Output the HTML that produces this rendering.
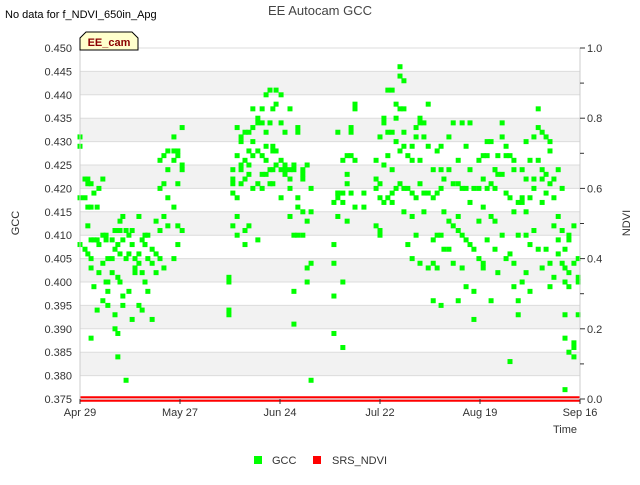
<!DOCTYPE html>
<html><head><meta charset="utf-8"><style>
body{margin:0;background:#fff;font-family:"Liberation Sans",sans-serif}
svg text{font-family:"Liberation Sans",sans-serif}
</style></head><body>
<svg id="c" width="640" height="480" xmlns="http://www.w3.org/2000/svg">
<rect width="640" height="480" fill="#fff"/>
<g id="bands"></g><g id="grid"></g>
<g id="pts"></g>
<g id="axes"></g>
<text x="5" y="18" font-size="11" fill="#000">No data for f_NDVI_650in_Apg</text>
<text x="320" y="15" font-size="13" fill="#444" text-anchor="middle">EE Autocam GCC</text>
<g>
<path d="M80,50 L80,38 L86,32 L132,32 L138,38 L138,50 Z" fill="#ffffcc" stroke="#000"/>
<text x="109" y="46" font-size="11" font-weight="bold" fill="#8b0000" text-anchor="middle">EE_cam</text></g>
<text x="565" y="433" font-size="11" fill="#333" text-anchor="middle">Time</text>
<text transform="translate(19,223) rotate(-90)" font-size="11" fill="#333" text-anchor="middle">GCC</text>
<text transform="translate(630,223) rotate(-90)" font-size="11" fill="#333" text-anchor="middle">NDVI</text>
<g><rect x="254" y="456" width="8" height="8" fill="#00ff00"/><text x="272" y="464" font-size="11" fill="#333">GCC</text></g>
<g><rect x="313" y="456" width="8" height="8" fill="#ff0000"/><text x="332" y="464" font-size="11" fill="#333">SRS_NDVI</text></g>
</svg>
<script>
const xTickLabels=["Apr 29","May 27","Jun 24","Jul 22","Aug 19","Sep 16"];
const xTickDays=[0,28,56,84,112,140];
const yTicks=[0.375,0.38,0.385,0.39,0.395,0.4,0.405,0.41,0.415,0.42,0.425,0.43,0.435,0.44,0.445,0.45];
const y2Ticks=[0,0.2,0.4,0.6,0.8,1.0];
const ndviLevels=[0.005,-0.005];
const dayGroups=[0,1.4,2.2,3.1,3.9,4.8,5.3,6.4,7.3,7.8,9,9.8,10.6,11.2,12,12.9,13.7,14.6,15.4,16.5,17.4,18.2,19,20.2,21.3,22.4,23.5,24.6,26.3,27.4,28.6,41.7,42.8,44,45.1,46.2,47.3,48.4,49.8,51,52.1,53.2,54,54.9,56.3,57.4,58.8,59.9,61,62.4,63.6,64.7,71.1,72.2,73.6,74.8,75.9,77,79.5,82.9,84,85.1,86.2,87.4,88.5,89.6,90.7,91.8,93,94.1,95.2,96.3,97.5,98.9,100,101.1,101.9,103.3,104.5,105.9,107,108.1,109.2,110.3,111.7,112.9,114,115.1,116.2,117,118.2,119.3,120.4,121.5,122.7,123.8,124.9,126,127.1,128.3,129.4,130.5,131.6,132.7,133.9,135,135.8,136.9,138.3,139.5];
const gccGroups=[[0.431,0.429,0.418,0.408],[0.422,0.407,0.418],[0.422,0.421,0.416,0.406,0.412],[0.421,0.416,0.405,0.388,0.403,0.409],[0.419,0.399,0.409],[0.416,0.394,0.409],[0.420,0.408,0.402],[0.422,0.410,0.404,0.396],[0.400,0.409,0.410],[0.400,0.405,0.398,0.395],[0.409,0.405,0.402],[0.411,0.390,0.407,0.393],[0.389,0.384,0.408,0.401],[0.411,0.406,0.400,0.413],[0.414,0.397,0.395,0.409],[0.405,0.379,0.411],[0.406,0.398,0.410],[0.411,0.392,0.408],[0.405,0.402,0.403],[0.414,0.404,0.395,0.406],[0.394,0.402,0.409],[0.408,0.410,0.408,0.400],[0.410,0.405,0.398],[0.404,0.407,0.392],[0.413,0.406,0.402],[0.420,0.426,0.411,0.405],[0.421,0.427,0.414,0.403],[0.428,0.418,0.424,0.412],[0.428,0.426,0.431,0.416,0.405],[0.427,0.428,0.421,0.412,0.408],[0.433,0.425,0.424,0.411],[0.394,0.393,0.401,0.400],[0.424,0.422,0.421,0.412,0.419],[0.433,0.427,0.418,0.414,0.410],[0.431,0.430,0.425,0.424,0.421],[0.432,0.426,0.422,0.411,0.408],[0.432,0.428,0.423,0.412,0.425],[0.437,0.433,0.430,0.427,0.420],[0.435,0.428,0.421,0.409,0.434],[0.434,0.437,0.423,0.427,0.420],[0.440,0.432,0.426,0.429,0.423],[0.441,0.434,0.424,0.421],[0.437,0.428,0.424,0.421,0.429],[0.438,0.441,0.425,0.428],[0.440,0.434,0.426,0.424,0.418],[0.432,0.423,0.424,0.425],[0.437,0.424,0.422,0.420,0.414],[0.425,0.424,0.410,0.398,0.391],[0.433,0.432,0.418,0.416,0.410],[0.423,0.424,0.415,0.422,0.410],[0.425,0.413,0.400,0.403],[0.420,0.415,0.404,0.379],[0.417,0.408,0.404,0.397,0.389],[0.419,0.418,0.414,0.419,0.432],[0.426,0.419,0.417,0.400,0.386],[0.427,0.423,0.421,0.413],[0.433,0.432,0.427,0.419],[0.438,0.437,0.426,0.416],[0.416,0.419],[0.426,0.422,0.420,0.412],[0.431,0.421,0.418,0.411,0.410],[0.434,0.425,0.417,0.435],[0.441,0.432,0.427,0.418],[0.441,0.432,0.424,0.419,0.417],[0.438,0.435,0.430,0.420],[0.446,0.444,0.437,0.428,0.421],[0.443,0.437,0.432,0.429,0.420,0.415],[0.427,0.420,0.408],[0.429,0.426,0.419,0.414,0.405],[0.433,0.431,0.418,0.410],[0.435,0.434,0.426,0.421,0.404],[0.431,0.434,0.419,0.415],[0.438,0.429,0.419,0.403],[0.424,0.418,0.409,0.404,0.396],[0.428,0.419,0.410,0.403],[0.429,0.424,0.420,0.410,0.395],[0.422,0.415,0.407],[0.431,0.424,0.413,0.407],[0.434,0.421,0.412,0.404],[0.426,0.421,0.414,0.411,0.396],[0.434,0.420,0.410,0.403],[0.429,0.420,0.409,0.399],[0.434,0.424,0.417,0.408],[0.420,0.407,0.392,0.398],[0.426,0.420,0.413,0.405],[0.427,0.422,0.416,0.404,0.403],[0.430,0.427,0.420,0.409],[0.430,0.421,0.414,0.396],[0.424,0.424,0.420,0.413,0.407],[0.427,0.423,0.402],[0.434,0.431,0.423,0.410],[0.429,0.427,0.419,0.405],[0.427,0.418,0.406,0.383],[0.426,0.424,0.415,0.404,0.399],[0.417,0.410,0.396,0.393],[0.424,0.418,0.417,0.400],[0.430,0.422,0.415,0.410,0.402],[0.426,0.418,0.408,0.398],[0.431,0.422,0.420,0.411],[0.437,0.433,0.426,0.407],[0.432,0.424,0.422,0.417,0.403],[0.431,0.423,0.419,0.407],[0.430,0.428,0.421,0.404,0.399],[0.422,0.418,0.412,0.401],[0.424,0.414,0.409,0.406],[0.420,0.411,0.404],[0.407,0.403,0.400,0.393,0.377,0.388],[0.410,0.409,0.402,0.399,0.385],[0.412,0.404,0.386,0.384,0.387],[0.405,0.400,0.393,0.401]];
const NS="http://www.w3.org/2000/svg";
const L=80,R=580,T=48,B=399;
const xs=d=>L+d/140*(R-L);
const ys=v=>B-(v-0.375)/0.075*(B-T);
const y2s=v=>B-v*(B-T);
function mk(tag,attrs,parent){const e=document.createElementNS(NS,tag);for(const k in attrs)e.setAttribute(k,attrs[k]);document.getElementById(parent).appendChild(e);return e;}
for(let i=0;i<yTicks.length-1;i++){
  if(Math.round(yTicks[i]*1000)%10===0){
    const r=mk('rect',{x:L,y:ys(yTicks[i]+0.005),width:R-L,height:ys(yTicks[i])-ys(yTicks[i]+0.005),fill:'#f2f2f2'},'bands');
    
    
  }
}
yTicks.forEach(v=>{
  const l=mk('line',{x1:L,x2:R,y1:ys(v),y2:ys(v),stroke:'#dcdcdc'},'grid');
  
  
  const t=mk('text',{x:L-8,y:ys(v)+4,'font-size':11,fill:'#333','text-anchor':'end'},'axes');
  t.textContent=v.toFixed(3);
  
  
});
mk('line',{x1:L,x2:L,y1:T,y2:B+2,stroke:'#ccc'},'axes');
mk('line',{x1:R,x2:R,y1:T,y2:B+2,stroke:'#ccc'},'axes');
mk('line',{x1:L,x2:R,y1:B,y2:B,stroke:'#ccc'},'axes');
xTickDays.forEach((d,i)=>{
  mk('line',{x1:xs(d),x2:xs(d),y1:B,y2:B+5,stroke:'#333'},'axes');
  const t=mk('text',{x:xs(d),y:B+17,'font-size':11,fill:'#333','text-anchor':'middle'},'axes');
  t.textContent=xTickLabels[i];
  
  
});
y2Ticks.forEach(v=>{
  mk('line',{x1:R,x2:R+5,y1:y2s(v),y2:y2s(v),stroke:'#333'},'axes');
  if(v<0.95) mk('line',{x1:R,x2:R+4,y1:y2s(v+0.1),y2:y2s(v+0.1),stroke:'#333'},'axes');
  const t=mk('text',{x:R+7,y:y2s(v)+4,'font-size':11,fill:'#333'},'axes');
  t.textContent=v.toFixed(1);
  
  
});
dayGroups.forEach((d,i)=>{
  gccGroups[i].forEach(v=>{
    const p=mk('rect',{x:xs(d)-2.5,y:ys(v)-2.5,width:5,height:5,fill:'#00ff00'},'pts');
    
    
  });
});
ndviLevels.forEach(v=>{
  const l=mk('line',{x1:L,x2:R,y1:y2s(v),y2:y2s(v),stroke:'#ff0000','stroke-width':2},'pts');
  
  
});
</script>
</body></html>
